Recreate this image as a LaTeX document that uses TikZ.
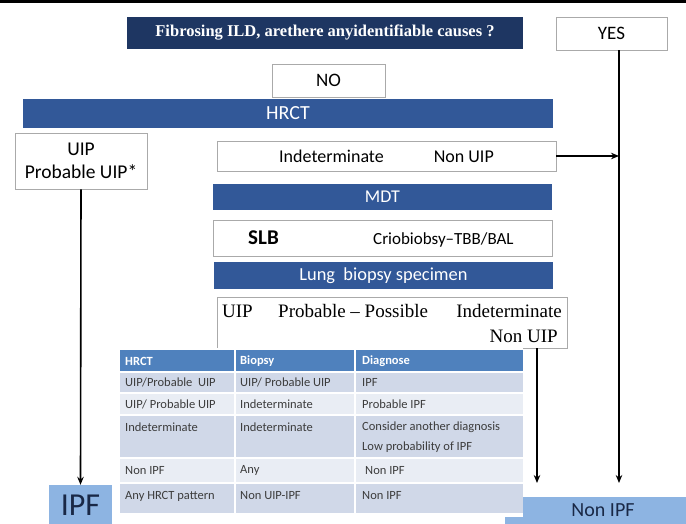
\documentclass[tikz,border=0pt]{standalone}
\usepackage{fontspec}
\setmainfont{Carlito}
\newfontfamily\serifx{Liberation Serif}
\usetikzlibrary{arrows.meta}
\definecolor{navy}{RGB}{30,54,98}
\definecolor{barblue}{RGB}{50,88,152}
\definecolor{hdrblue}{RGB}{79,129,189}
\definecolor{rowdark}{RGB}{208,216,232}
\definecolor{rowlight}{RGB}{233,237,244}
\definecolor{lightblue}{RGB}{141,180,226}
\definecolor{boxgray}{RGB}{170,170,170}
\definecolor{tgray}{RGB}{60,60,60}
\definecolor{darktext}{RGB}{25,40,70}
\begin{document}
\begin{tikzpicture}[x=1pt,y=-1pt,
  box/.style={draw=boxgray, fill=white, line width=0.8pt, inner sep=0pt, rectangle, align=center},
  bar/.style={fill=barblue, text=white, inner sep=0pt, rectangle},
  lbox/.style={fill=lightblue, text=darktext, inner sep=0pt, rectangle},
  arr/.style={-{Stealth[length=8pt,width=6.5pt]}, line width=1.6pt},
  tcell/.style={anchor=west, text=tgray, font=\fontsize{12.5}{14}\selectfont, inner sep=0pt},
  thead/.style={anchor=west, text=white, font=\bfseries\fontsize{12.5}{14}\selectfont, inner sep=0pt},
  serift/.style={inner sep=0pt, font=\serifx\fontsize{19}{21}\selectfont},
  plain/.style={inner sep=0pt}
]
\useasboundingbox (0,0) rectangle (686,524);
\fill[black] (0,0) rectangle (686,3);

% top
\node[fill=navy, text=white, inner sep=0pt, minimum width=396pt, minimum height=32pt,
      font=\serifx\bfseries\fontsize{16.5}{18}\selectfont] (title) at (325,33)
      {Fibrosing ILD, arethere anyidentifiable causes ?};
\node[box, minimum width=111pt, minimum height=33pt, font=\fontsize{19}{21}\selectfont] (yes) at (611.5,33.5) {YES};
\node[box, minimum width=113pt, minimum height=33pt, font=\fontsize{19}{21}\selectfont] (no) at (328.5,80.5) {NO};
\node[bar, minimum width=530pt, minimum height=29pt, font=\fontsize{20}{22}\selectfont] (hrct) at (288,113.5) {HRCT};

% HRCT outcomes
\node[box, minimum width=132pt, minimum height=56pt, font=\fontsize{19.5}{23}\selectfont] (uip) at (81,161) {UIP\\Probable UIP*};
\node[box, minimum width=339pt, minimum height=30pt, font=\fontsize{18}{20}\selectfont] (indet) at (386.5,156)
      {Indeterminate\hspace{50pt}Non UIP};

% MDT chain
\node[bar, minimum width=339pt, minimum height=26pt, font=\fontsize{18}{20}\selectfont] (mdt) at (382.5,197) {MDT};
\node[box, minimum width=339pt, minimum height=36pt] (slb) at (382.5,238) {};
\node[plain, anchor=west, font=\bfseries\fontsize{21}{23}\selectfont] (slbt) at (248,238) {SLB};
\node[plain, anchor=west, font=\fontsize{17}{19}\selectfont] (crio) at (373,240) {Criobiobsy–TBB/BAL};
\node[bar, minimum width=339pt, minimum height=27pt, font=\fontsize{18.4}{20}\selectfont] (lung) at (383.5,275.5) {Lung\ \ biopsy specimen};
\node[box, minimum width=350pt, minimum height=51pt] (bx) at (392,322.5) {};
\node[serift, anchor=west] (bxa) at (222,311) {UIP};
\node[serift, anchor=west] (bxp) at (278,311) {Probable – Possible};
\node[serift, anchor=east] (bxi) at (562,311) {Indeterminate};
\node[serift, anchor=east] (bxb) at (558,336) {Non UIP};

% outcome boxes
\node[lbox, minimum width=63pt, minimum height=39pt] (ipf) at (80.5,504.5) {};
\node[plain, text=darktext, font=\fontsize{32}{34}\selectfont] (ipft) at (80.5,505) {IPF};
\node[lbox, minimum width=181pt, minimum height=27pt] (nonipf) at (595.5,510.5) {};
\node[plain, text=darktext, font=\fontsize{20}{22}\selectfont] (nonipft) at (603,510.5) {Non IPF};

% table
\fill[white] (118,348) rectangle (523,517);
\fill[hdrblue] (120,350) rectangle (523,372);
\fill[rowdark] (120,372) rectangle (523,393);
\fill[rowlight] (120,393) rectangle (523,415);
\fill[rowdark] (120,415) rectangle (523,458);
\fill[rowlight] (120,458) rectangle (523,483);
\fill[rowdark] (120,483) rectangle (523,513);
\foreach \yy in {372,393,415,458,483} \draw[white, line width=1.2pt] (120,\yy) -- (523,\yy);
\foreach \xx in {235,355} \draw[white, line width=1.2pt] (\xx,350) -- (\xx,513);

\node[thead] (h1) at (125,361) {HRCT};
\node[thead] (h2) at (240,361) {Biopsy};
\node[thead] (h3) at (362,361) {Diagnose};

\node[tcell] (a1) at (125,382.5) {UIP/Probable\ \ UIP};
\node[tcell] (b1) at (240,382.5) {UIP/ Probable UIP};
\node[tcell] (c1) at (362,382.5) {IPF};
\node[tcell] (a2) at (125,404) {UIP/\ Probable UIP};
\node[tcell] (b2) at (240,404) {Indeterminate};
\node[tcell] (c2) at (362,404) {Probable IPF};
\node[tcell] (a3) at (125,427) {Indeterminate};
\node[tcell] (b3) at (240,427) {Indeterminate};
\node[tcell] (c3) at (362,427) {Consider another diagnosis};
\node[tcell] (c3b) at (362,447) {Low probability of IPF};
\node[tcell] (a4) at (125,470.5) {Non IPF};
\node[tcell] (b4) at (240,470.5) {Any};
\node[tcell] (c4) at (365,470.5) {Non IPF};
\node[tcell] (a5) at (125,496) {Any HRCT pattern};
\node[tcell] (b5) at (240,496) {Non UIP-IPF};
\node[tcell] (c5) at (362,496) {Non IPF};

% connectors
\coordinate (t1) at (537,483);
\coordinate (t2) at (619,483);
\draw[arr] (uip.south) -- (ipf.north);
\draw[arr] (yes.south -| t2) -- (t2);
\draw[arr] (indet.east) -- (indet.east -| t2);
\draw[arr] (bx.south -| t1) -- (t1);
\end{tikzpicture}
\end{document}
